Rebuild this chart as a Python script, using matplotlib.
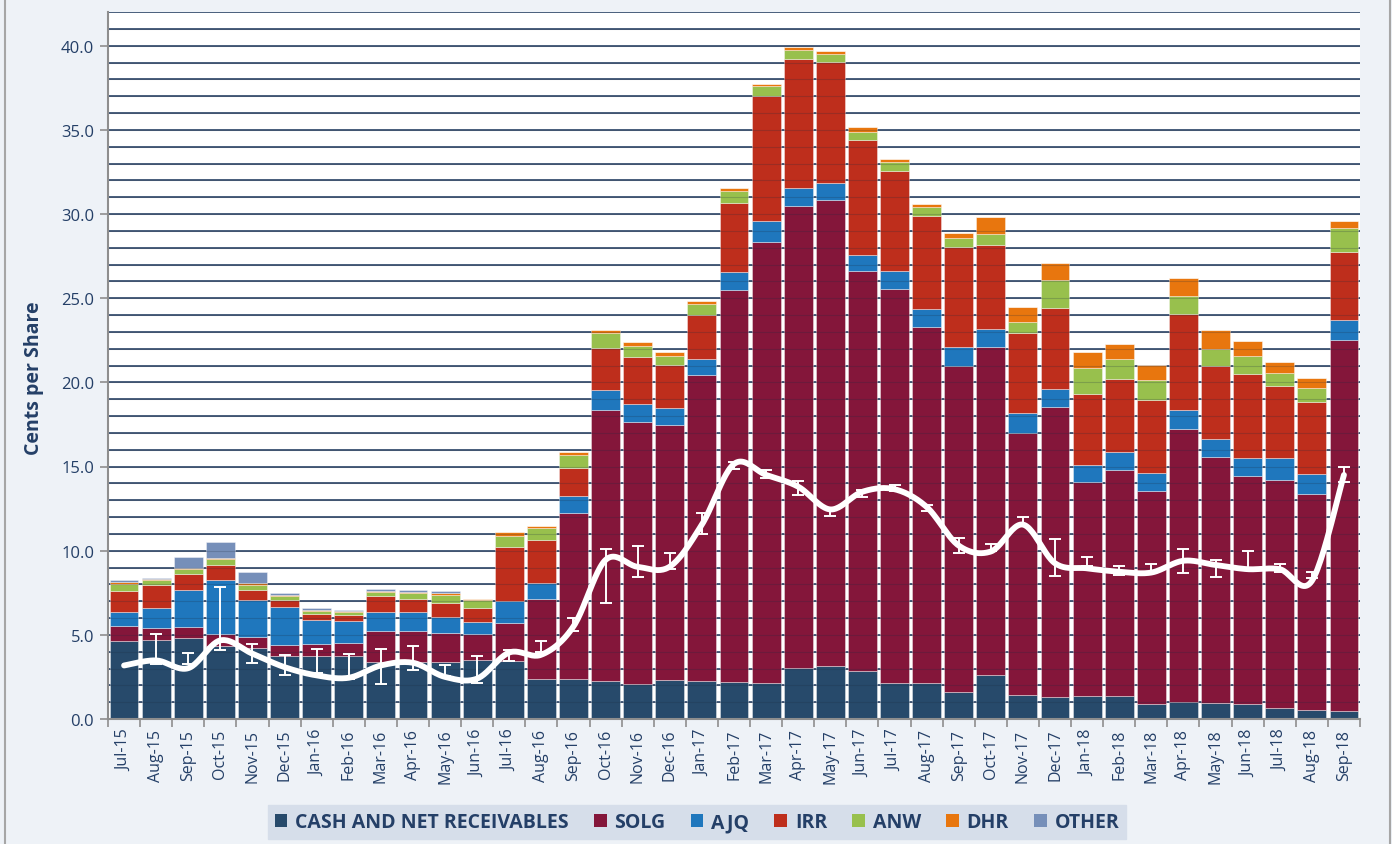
import numpy as np
import matplotlib
matplotlib.use("Agg")
import matplotlib.pyplot as plt
from matplotlib.patches import Patch
from matplotlib.lines import Line2D

plt.rcParams['font.family'] = ['Open Sans', 'DejaVu Sans']

months = ['Jul-15', 'Aug-15', 'Sep-15', 'Oct-15', 'Nov-15', 'Dec-15', 'Jan-16', 'Feb-16', 'Mar-16',
          'Apr-16', 'May-16', 'Jun-16', 'Jul-16', 'Aug-16', 'Sep-16', 'Oct-16', 'Nov-16', 'Dec-16',
          'Jan-17', 'Feb-17', 'Mar-17', 'Apr-17', 'May-17', 'Jun-17', 'Jul-17', 'Aug-17', 'Sep-17',
          'Oct-17', 'Nov-17', 'Dec-17', 'Jan-18', 'Feb-18', 'Mar-18', 'Apr-18', 'May-18', 'Jun-18',
          'Jul-18', 'Aug-18', 'Sep-18']

cash = [4.63, 4.69, 4.81, 4.31, 4.23, 3.74, 3.74, 3.74, 3.38, 3.38, 3.38, 3.48, 3.44, 2.37, 2.35,
        2.26, 2.09, 2.31, 2.27, 2.20, 2.15, 3.05, 3.16, 2.86, 2.15, 2.15, 1.62, 2.63, 1.42, 1.32,
        1.38, 1.34, 0.88, 1.00, 0.98, 0.92, 0.68, 0.54, 0.46]
solg = [0.87, 0.71, 0.65, 0.71, 0.67, 0.65, 0.69, 0.77, 1.82, 1.86, 1.70, 1.54, 2.28, 4.75, 9.87,
        16.11, 15.57, 15.14, 18.14, 23.29, 26.21, 27.45, 27.69, 23.77, 23.42, 21.14, 19.36, 19.49,
        15.57, 17.20, 12.70, 13.44, 12.66, 16.23, 14.59, 13.52, 13.52, 12.82, 22.07]
ajq = [0.83, 1.22, 2.23, 3.23, 2.14, 2.26, 1.46, 1.34, 1.15, 1.11, 0.99, 0.74, 1.30, 0.97, 1.01,
       1.17, 1.03, 1.02, 0.99, 1.09, 1.24, 1.06, 0.98, 0.93, 1.06, 1.09, 1.14, 1.04, 1.18, 1.06,
       1.01, 1.09, 1.08, 1.11, 1.08, 1.09, 1.31, 1.18, 1.18]
irr = [1.30, 1.33, 0.95, 0.87, 0.65, 0.39, 0.36, 0.32, 0.97, 0.77, 0.85, 0.86, 3.22, 2.55, 1.68,
       2.50, 2.83, 2.58, 2.61, 4.08, 7.40, 7.64, 7.22, 6.84, 5.94, 5.51, 5.94, 4.98, 4.78, 4.85,
       4.19, 4.31, 4.34, 5.69, 4.35, 4.99, 4.27, 4.28, 4.05]
anw = [0.40, 0.30, 0.28, 0.39, 0.28, 0.26, 0.16, 0.18, 0.23, 0.38, 0.44, 0.42, 0.62, 0.69, 0.79,
       0.87, 0.63, 0.53, 0.64, 0.72, 0.59, 0.53, 0.47, 0.45, 0.51, 0.51, 0.51, 0.69, 0.66, 1.63,
       1.58, 1.20, 1.16, 1.09, 0.99, 1.02, 0.80, 0.86, 1.41]
dhr = [0.08, 0.06, 0.04, 0.06, 0.08, 0.08, 0.06, 0.06, 0.08, 0.05, 0.10, 0.10, 0.24, 0.16, 0.14,
       0.17, 0.22, 0.20, 0.18, 0.16, 0.13, 0.19, 0.16, 0.30, 0.18, 0.21, 0.29, 0.98, 0.84, 1.02,
       0.93, 0.91, 0.92, 1.06, 1.12, 0.89, 0.64, 0.56, 0.42]
other = [0.12, 0.09, 0.65, 0.97, 0.67, 0.10, 0.12, 0.09, 0.10, 0.12, 0.14, 0, 0, 0, 0,
         0, 0, 0, 0, 0, 0, 0, 0, 0, 0, 0, 0, 0, 0, 0,
         0, 0, 0, 0, 0, 0, 0, 0, 0]

# share price line and monthly low/high range
price = [3.18, 3.48, 3.02, 4.67, 3.88, 3.08, 2.59, 2.45, 3.18, 3.34, 2.50, 2.40, 3.95, 3.82, 5.50,
         9.45, 9.04, 9.05, 11.55, 15.15, 14.50, 13.80, 12.45, 13.50, 13.65, 12.60, 10.30, 9.95,
         11.55, 9.25, 8.95, 8.75, 8.70, 9.40, 9.15, 8.90, 8.90, 8.20, 14.50]
price_low = [np.nan, 3.24, 3.24, 4.11, 3.30, 2.59, 2.75, 2.39, 2.05, 2.89, 2.55, 2.11, 3.42, 3.98,
             5.20, 6.88, 8.43, 8.90, 11.00, 14.85, 14.32, 13.32, 12.07, 13.18, 13.53, 12.33, 9.89,
             10.00, 11.47, 8.51, 9.07, 8.57, 8.67, 8.69, 8.41, 8.87, 8.71, 8.37, 14.08]
price_high = [np.nan, 5.06, 3.91, 7.83, 4.47, 3.78, 4.13, 3.84, 4.15, 4.35, 3.18, 3.74, 4.07, 4.63,
              5.99, 10.07, 10.25, 9.87, 12.23, 15.25, 14.80, 14.11, 12.55, 13.61, 13.93, 12.73,
              10.74, 10.42, 11.98, 10.67, 9.61, 9.11, 9.21, 10.11, 9.43, 9.97, 9.21, 8.71, 14.99]

series = [('CASH AND NET RECEIVABLES', cash, '#274A6B'),
          ('SOLG', solg, '#84163A'),
          ('AJQ', ajq, '#1F77BD'),
          ('IRR', irr, '#BE2E1C'),
          ('ANW', anw, '#98C04D'),
          ('DHR', dhr, '#E8760E'),
          ('OTHER', other, '#768FB9')]

navy = '#243F67'
axis_gray = '#8E8E8E'


def catmull_rom(xs, ys, n=24):
    pts = np.column_stack([xs, ys]).astype(float)
    p = np.vstack([pts[0], pts, pts[-1]])
    t = np.linspace(0, 1, n, endpoint=False)[:, None]
    out = []
    for i in range(len(pts) - 1):
        p0, p1, p2, p3 = p[i], p[i + 1], p[i + 2], p[i + 3]
        seg = 0.5 * (2 * p1 + (-p0 + p2) * t + (2 * p0 - 5 * p1 + 4 * p2 - p3) * t ** 2
                     + (-p0 + 3 * p1 - 3 * p2 + p3) * t ** 3)
        out.append(seg)
    out.append(pts[-1][None, :])
    out = np.vstack(out)
    return out[:, 0], out[:, 1]


fig = plt.figure(figsize=(13.92, 8.45), dpi=100)
fig.patch.set_facecolor('#EEF2F7')
ax = fig.add_axes([108 / 1392, 125 / 845, 1252 / 1392, 707 / 845])
ax.set_facecolor('white')

x = np.arange(len(months))

# gridlines behind the bars
for v in np.arange(1, 43):
    ax.axhline(v, color='#3A5272', lw=1.3, zorder=0.5)

bottom = np.zeros(len(months))
for name, vals, col in series:
    vals = np.array(vals, dtype=float)
    ax.bar(x, vals, width=0.9, bottom=bottom, color=col, edgecolor=(1, 1, 1, 0.45),
           linewidth=0.6, zorder=2)
    bottom += vals

# faint gridlines showing through the bars
for v in np.arange(1, 42):
    ax.axhline(v, color='#1B2B40', lw=0.8, alpha=0.22, zorder=2.5)

# price range bars and smoothed price line
low = np.array(price_low)
high = np.array(price_high)
ok = ~np.isnan(low)
ax.errorbar(x[ok], low[ok], yerr=[np.zeros(ok.sum()), (high - low)[ok]], fmt='none',
            ecolor='white', elinewidth=1.4, capsize=4, capthick=1.4, zorder=4)
sx, sy = catmull_rom(x, price)
ax.plot(sx, sy, color='white', lw=4.2, solid_capstyle='round', zorder=5)

ax.set_xlim(-0.5, len(months) - 0.5)
ax.set_ylim(0, 42)

ax.set_yticks(np.arange(0, 41, 5))
ax.set_yticklabels([f'{v:.1f}' for v in np.arange(0, 41, 5)])
ax.tick_params(axis='y', colors=axis_gray, labelcolor=navy, labelsize=12, length=6, width=1.2, pad=4)

ax.set_xticks(x)
ax.set_xticklabels(months, rotation=90)
ax.set_xticks(np.arange(-0.5, len(months), 1), minor=True)
ax.tick_params(axis='x', which='major', length=0, labelcolor=navy, labelsize=11.5, pad=7)
ax.tick_params(axis='x', which='minor', length=6, width=1.2, color=axis_gray)

for side in ['top', 'right']:
    ax.spines[side].set_visible(False)
for side in ['left', 'bottom']:
    ax.spines[side].set_color(axis_gray)
    ax.spines[side].set_linewidth(1.5)

ax.set_ylabel('Cents per Share', fontsize=14, fontweight='bold', color=navy)
ax.yaxis.set_label_coords(-0.051, 0.483)

handles = [Patch(facecolor=col, edgecolor='none') for _, _, col in series]
labels = [name for name, _, _ in series]
leg = fig.legend(handles, labels, loc='center', bbox_to_anchor=(697 / 1392, 22 / 845), ncol=7,
                 frameon=True, fancybox=False, facecolor='#D6DEEA', edgecolor='#D6DEEA',
                 prop={'weight': 'bold', 'size': 14}, labelcolor=navy,
                 handlelength=0.65, handleheight=0.65, handletextpad=0.4, columnspacing=1.3,
                 borderpad=0.35)
leg.get_frame().set_alpha(1)

# outer frame edges
for fx in (5 / 1392, 1390 / 1392):
    fig.add_artist(Line2D([fx, fx], [0, 1], transform=fig.transFigure, color='#A6A6A6', lw=1.5))

fig.savefig('out.png', dpi=100, facecolor=fig.get_facecolor())
